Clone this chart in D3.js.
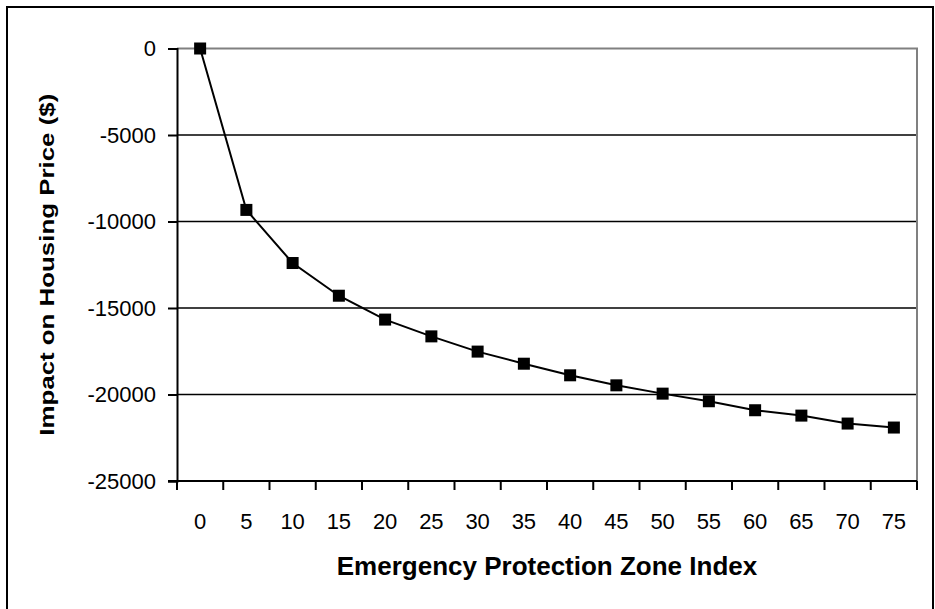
<!DOCTYPE html>
<html>
<head>
<meta charset="utf-8">
<script src="https://cdn.jsdelivr.net/npm/d3@7/dist/d3.min.js"></script>
<style>
  body { margin: 0; background: #fff; }
  text { font-family: "Liberation Sans", Arial, sans-serif; fill: #000; }
</style>
</head>
<body>
<div id="chart"></div>
<script>
// data
var zoneIndex = [0, 5, 10, 15, 20, 25, 30, 35, 40, 45, 50, 55, 60, 65, 70, 75];
var priceImpact = [0, -9330, -12400, -14290, -15670, -16640, -17520, -18220,
  -18890, -19470, -19950, -20390, -20910, -21220, -21680, -21910];
var yTicks = [0, -5000, -10000, -15000, -20000, -25000];
var gridValues = [-5000, -10000, -15000, -20000];

var width = 935, height = 609;
var plot = { left: 177, right: 917, top: 48.5, bottom: 481 };

var svg = d3.select('#chart').append('svg')
  .attr('width', width)
  .attr('height', height);

// outer chart border
svg.append('rect')
  .attr('x', 7).attr('y', 7)
  .attr('width', 926).attr('height', 620)
  .attr('fill', 'none')
  .attr('stroke', '#000')
  .attr('stroke-width', 2);

var x = d3.scaleBand()
  .domain(zoneIndex)
  .range([plot.left, plot.right])
  .padding(0);

var y = d3.scaleLinear()
  .domain([-25000, 0])
  .range([plot.bottom, plot.top]);

// gridlines
svg.append('g')
  .selectAll('line')
  .data(gridValues)
  .join('line')
  .attr('x1', plot.left).attr('x2', plot.right)
  .attr('y1', function (d) { return y(d); })
  .attr('y2', function (d) { return y(d); })
  .attr('stroke', '#000')
  .attr('stroke-width', 1.5);

// plot area border (top & right in gray)
svg.append('path')
  .attr('d', 'M' + plot.left + ',' + y(0) + 'H' + plot.right + 'V' + plot.bottom)
  .attr('fill', 'none')
  .attr('stroke', '#808080')
  .attr('stroke-width', 2);

// y axis
var yAxis = svg.append('g')
  .attr('transform', 'translate(' + plot.left + ',0)')
  .call(d3.axisLeft(y).tickValues(yTicks).tickSize(9).tickPadding(12).tickFormat(d3.format('d')));
yAxis.select('.domain').attr('stroke', '#000').attr('stroke-width', 2);
yAxis.selectAll('.tick line').attr('stroke', '#000').attr('stroke-width', 2);
yAxis.selectAll('.tick text')
  .attr('font-size', 22)
  .attr('font-family', '"Liberation Sans", Arial, sans-serif')
  .text(function (d) { return d === 0 ? '0' : String(d); });

// x axis: ticks between categories (band edges)
var bandEdges = zoneIndex.map(function (d) { return x(d); }).concat([plot.right]);
var xg = svg.append('g');
xg.append('line')
  .attr('x1', plot.left - 9).attr('x2', plot.right)
  .attr('y1', plot.bottom).attr('y2', plot.bottom)
  .attr('stroke', '#000').attr('stroke-width', 2);
xg.selectAll('line.tk')
  .data(bandEdges)
  .join('line')
  .attr('class', 'tk')
  .attr('x1', function (d) { return d; })
  .attr('x2', function (d) { return d; })
  .attr('y1', plot.bottom).attr('y2', plot.bottom + 9)
  .attr('stroke', '#000').attr('stroke-width', 2);
xg.selectAll('text')
  .data(zoneIndex)
  .join('text')
  .attr('x', function (d) { return x(d) + x.bandwidth() / 2; })
  .attr('y', 529)
  .attr('text-anchor', 'middle')
  .attr('font-size', 22)
  .text(function (d) { return d; });

// series line
var line = d3.line()
  .x(function (d, i) { return x(zoneIndex[i]) + x.bandwidth() / 2; })
  .y(function (d) { return y(d); });

svg.append('path')
  .datum(priceImpact)
  .attr('d', line)
  .attr('fill', 'none')
  .attr('stroke', '#000')
  .attr('stroke-width', 2);

// square markers
var m = 12;
svg.append('g')
  .selectAll('rect')
  .data(priceImpact)
  .join('rect')
  .attr('x', function (d, i) { return x(zoneIndex[i]) + x.bandwidth() / 2 - m / 2; })
  .attr('y', function (d) { return y(d) - m / 2; })
  .attr('width', m).attr('height', m)
  .attr('fill', '#000');

// axis titles
svg.append('text')
  .attr('x', (plot.left + plot.right) / 2)
  .attr('y', 575)
  .attr('text-anchor', 'middle')
  .attr('font-size', 26)
  .attr('font-weight', 'bold')
  .text('Emergency Protection Zone Index');

svg.append('text')
  .attr('transform', 'translate(54,' + ((plot.top + plot.bottom) / 2) + ') rotate(-90)')
  .attr('text-anchor', 'middle')
  .attr('font-size', 20)
  .attr('font-weight', 'bold')
  .attr('textLength', 342)
  .attr('lengthAdjust', 'spacingAndGlyphs')
  .text('Impact on Housing Price ($)');
</script>
</body>
</html>
